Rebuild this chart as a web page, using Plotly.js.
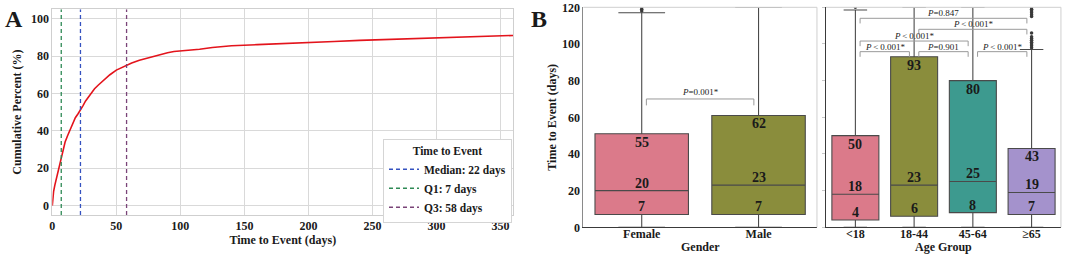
<!DOCTYPE html>
<html><head><meta charset="utf-8">
<script src="https://cdn.plot.ly/plotly-3.0.1.min.js"></script>
<style>html,body{margin:0;padding:0;background:#fff}#chart{width:1065px;height:258px}</style>
</head><body><div id="chart"></div>
<script>
// ---------- Panel A data ----------
const days = [0,0.5,1,2,3,4,5,6,7,8,9,10,12,14,16,18,20,22,24,26,28,30,33,36,40,45,50,55,58,62,68,75,82,90,95,105,115,125,140,160,180,200,220,240,260,280,300,320,340,360];
const cumPct = [0,4,7.5,11,14,17,20,23,25.5,28,31,34,37.5,41,44,47,49,51,53.5,56,58,60,62.5,64.5,67,70,72.5,74.2,75.2,76.3,77.8,79.2,80.5,81.8,82.4,82.9,83.6,84.6,85.5,86.1,86.8,87.3,87.8,88.4,88.9,89.3,89.8,90.3,90.7,91.0];
const quartNames = ["Median: 22 days","Q1: 7 days","Q3: 58 days"];
const quartDays = [22, 7, 58];
const quartColors = ["#3552c0","#2e8a55","#7a4478"];

// ---------- Panel B data ----------
const genderCats = ["Female","Male"];
const genderQ1 = [7, 7];
const genderMed = [20, 23];
const genderQ3 = [51, 61];
const genderLo = [0, 0];
const genderHi = [117, 120];
const genderQ1Lab = ["7","7"];
const genderMedLab = ["20","23"];
const genderQ3Lab = ["55","62"];
const genderColors = ["#db7a8a","#8a8d3c"];
const genderOutliers = [[118,119,120], []];

const ageCats = ["<18","18-44","45-64","≥65"];
const ageQ1 = [4, 6, 8, 7];
const ageMed = [18, 23, 25, 19];
const ageQ3 = [50, 93, 80, 43];
const ageLo = [0, 0, 0, 0];
const ageHi = [118.5, 120, 120, 97];
const ageQ1Lab = ["4","6","8","7"];
const ageMedLab = ["18","23","25","19"];
const ageQ3Lab = ["50","93","80","43"];
const ageColors = ["#db7a8a","#8a8d3c","#3d9a8f","#a492cc"];
const ageOutliers = [[120], [], [], [98,99,100,101,102,103,104,106,115,116,117,118,119,120]];

// comparisons: [from, to, level, text]
const genderComps = [[0, 1, 70, "<i>P</i>=0.001*"]];
const ageComps = [
  [0, 3, 114, "<i>P</i>=0.847"],
  [1, 3, 108, "<i>P</i>\u2009&lt;\u20090.001*"],
  [0, 2, 101.6, "<i>P</i>\u2009&lt;\u20090.001*"],
  [0, 1, 95.8, "<i>P</i>\u2009&lt;\u20090.001*"],
  [1, 2, 95.8, "<i>P</i>=0.901"],
  [2, 3, 95.8, "<i>P</i>\u2009&lt;\u20090.001*"]
];

const SERIF = "Liberation Serif, Times New Roman, serif";
const boldFont = (s) => ({family: SERIF, size: s, color: "#1a1a1a", weight: "bold"});

const traces = [];
traces.push({type:"scatter", mode:"lines", x: days, y: cumPct, line:{color:"#e3141c", width:1.6},
  xaxis:"x", yaxis:"y", showlegend:false, hoverinfo:"skip"});
for (let i = 0; i < quartDays.length; i++) {
  traces.push({type:"scatter", mode:"lines", x:[quartDays[i], quartDays[i]], y:[-5, 105],
    name: quartNames[i], line:{color: quartColors[i], width:1.3, dash:"4px,3px"},
    xaxis:"x", yaxis:"y", showlegend:true});
}

function addBoxes(cats, q1, med, q3, lo, hi, colors, outl, xa, ya) {
  for (let i = 0; i < cats.length; i++) {
    traces.push({type:"box", x:[cats[i]], q1:[q1[i]], median:[med[i]], q3:[q3[i]],
      lowerfence:[lo[i]], upperfence:[hi[i]], fillcolor: colors[i],
      line:{color:"#4a4a4a", width:1.1}, width:0.8, whiskerwidth:0.5,
      boxpoints:false, xaxis:xa, yaxis:ya, showlegend:false, hoverinfo:"skip"});
    if (outl[i].length) {
      traces.push({type:"scatter", mode:"markers", x: outl[i].map(() => cats[i]), y: outl[i],
        marker:{color:"#3a3a3a", size:3.5}, xaxis:xa, yaxis:ya, showlegend:false, hoverinfo:"skip"});
    }
  }
}
addBoxes(genderCats, genderQ1, genderMed, genderQ3, genderLo, genderHi, genderColors, genderOutliers, "x2", "y2");
addBoxes(ageCats, ageQ1, ageMed, ageQ3, ageLo, ageHi, ageColors, ageOutliers, "x3", "y3");

const annotations = [];
const shapes = [];

function boxLabels(q1l, medl, q3l, q1, med, q3, xa, ya) {
  for (let i = 0; i < q1.length; i++) {
    annotations.push({xref:xa, yref:ya, x:i, y:q3[i], text:q3l[i], showarrow:false, yanchor:"top", yshift:1, font:boldFont(14)});
    annotations.push({xref:xa, yref:ya, x:i, y:med[i], text:medl[i], showarrow:false, yanchor:"bottom", yshift:-2, font:boldFont(14)});
    annotations.push({xref:xa, yref:ya, x:i, y:q1[i], text:q1l[i], showarrow:false, yanchor:"bottom", yshift:-2, font:boldFont(14)});
  }
}
boxLabels(genderQ1Lab, genderMedLab, genderQ3Lab, genderQ1, genderMed, genderQ3, "x2", "y2");
boxLabels(ageQ1Lab, ageMedLab, ageQ3Lab, ageQ1, ageMed, ageQ3, "x3", "y3");

function brackets(comps, xa, ya, inset, tip, shift) {
  const lc = {color:"#9a9a9a", width:1};
  comps.forEach(c => {
    const a = c[0] + inset, b = c[1] - inset, y = c[2];
    shapes.push({type:"line", xref:xa, yref:ya, x0:a, x1:b, y0:y, y1:y, line:lc});
    shapes.push({type:"line", xref:xa, yref:ya, x0:a, x1:a, y0:y, y1:y - tip, line:lc});
    shapes.push({type:"line", xref:xa, yref:ya, x0:b, x1:b, y0:y, y1:y - tip, line:lc});
    annotations.push({xref:xa, yref:ya, x:(a + b) / 2, y:y, text:c[3], showarrow:false, yanchor:"bottom", yshift:shift,
      font:{family:SERIF, size:9, color:"#222"}});
  });
}
brackets(genderComps, "x2", "y2", 0.04, 3.5, 0);
brackets(ageComps, "x3", "y3", 0.08, 2.8, -2);

// light frame top/right of B subplots
["x2","x3"].forEach((xa, k) => {
  const ya = k === 0 ? "y2" : "y3";
  shapes.push({type:"line", xref:xa + " domain", yref:ya + " domain", x0:0, x1:1, y0:1, y1:1, line:{color:"#cfcfcf", width:1}});
  shapes.push({type:"line", xref:xa + " domain", yref:ya + " domain", x0:1, x1:1, y0:0, y1:1, line:{color:"#cfcfcf", width:1}});
});

// panel B x-axis titles
annotations.push({xref:"x2 domain", yref:"paper", x:0.5, y:0.0426, yanchor:"middle", text:"Gender", showarrow:false, font:boldFont(12)});
annotations.push({xref:"x3 domain", yref:"paper", x:0.5, y:0.0426, yanchor:"middle", text:"Age Group", showarrow:false, font:boldFont(12)});

annotations.push({xref:"paper", yref:"paper", x:0.003, y:0.985, xanchor:"left", yanchor:"top", text:"A", showarrow:false, font:boldFont(24)});
annotations.push({xref:"paper", yref:"paper", x:0.497, y:0.985, xanchor:"left", yanchor:"top", text:"B", showarrow:false, font:boldFont(24)});

const layout = {
  width:1065, height:258, margin:{l:0, r:0, t:0, b:0},
  paper_bgcolor:"#ffffff", plot_bgcolor:"#ffffff",
  font:{family:SERIF, color:"#1a1a1a"},
  boxmode:"overlay",
  showlegend:true,
  legend:{x:0.3596, y:0.462, xanchor:"left", yanchor:"top", bgcolor:"#ffffff", bordercolor:"#d5d5d5", borderwidth:1,
    font:boldFont(11.5), title:{text:"Time to Event", font:boldFont(11.5), side:"top center"}, itemwidth:30,
    tracegroupgap:0},
  xaxis:{domain:[0.0491, 0.4820], anchor:"y", range:[0, 360], tickvals:[0,50,100,150,200,250,300,350],
    showgrid:true, gridcolor:"#d9d9d9", zeroline:false, showline:true, mirror:true, linecolor:"#cfcfcf",
    ticks:"", tickfont:boldFont(12), title:{text:"Time to Event (days)", font:boldFont(12), standoff:2}},
  yaxis:{domain:[0.1667, 0.964], anchor:"x", range:[-5, 105], tickvals:[0,20,40,60,80,100],
    showgrid:true, gridcolor:"#d9d9d9", zeroline:false, showline:true, mirror:true, linecolor:"#cfcfcf",
    ticks:"", tickfont:boldFont(12), title:{text:"Cumulative Percent (%)", font:boldFont(12), standoff:6}},
  xaxis2:{domain:[0.5477, 0.7671], anchor:"y2", type:"category", categoryorder:"array", categoryarray:genderCats,
    range:[-0.5, 1.5], showgrid:false, zeroline:false, showline:true, linecolor:"#3a3a3a", ticks:"",
    ticklabelstandoff:-5, tickfont:boldFont(12)},
  yaxis2:{domain:[0.119, 0.9717], anchor:"x2", range:[0, 120], tickvals:[0,20,40,60,80,100,120],
    showgrid:false, zeroline:false, showline:true, linecolor:"#8a8a8a", ticks:"",
    tickfont:boldFont(12), title:{text:"Time to Event (days)", font:boldFont(12), standoff:2}},
  xaxis3:{domain:[0.7756, 0.9962], anchor:"y3", type:"category", categoryorder:"array", categoryarray:ageCats,
    range:[-0.5, 3.5], showgrid:false, zeroline:false, showline:true, linecolor:"#3a3a3a", ticks:"",
    ticklabelstandoff:-5, tickfont:boldFont(12)},
  yaxis3:{domain:[0.119, 0.9717], anchor:"x3", range:[0, 120], tickvals:[0,20,40,60,80,100,120],
    showgrid:false, zeroline:false, showline:true, linecolor:"#3a3a3a", ticks:"outside", ticklen:3, tickcolor:"#c8c8c8",
    showticklabels:false},
  annotations: annotations,
  shapes: shapes
};

Plotly.newPlot("chart", traces, layout, {staticPlot:true, displayModeBar:false});
</script>
</body></html>
